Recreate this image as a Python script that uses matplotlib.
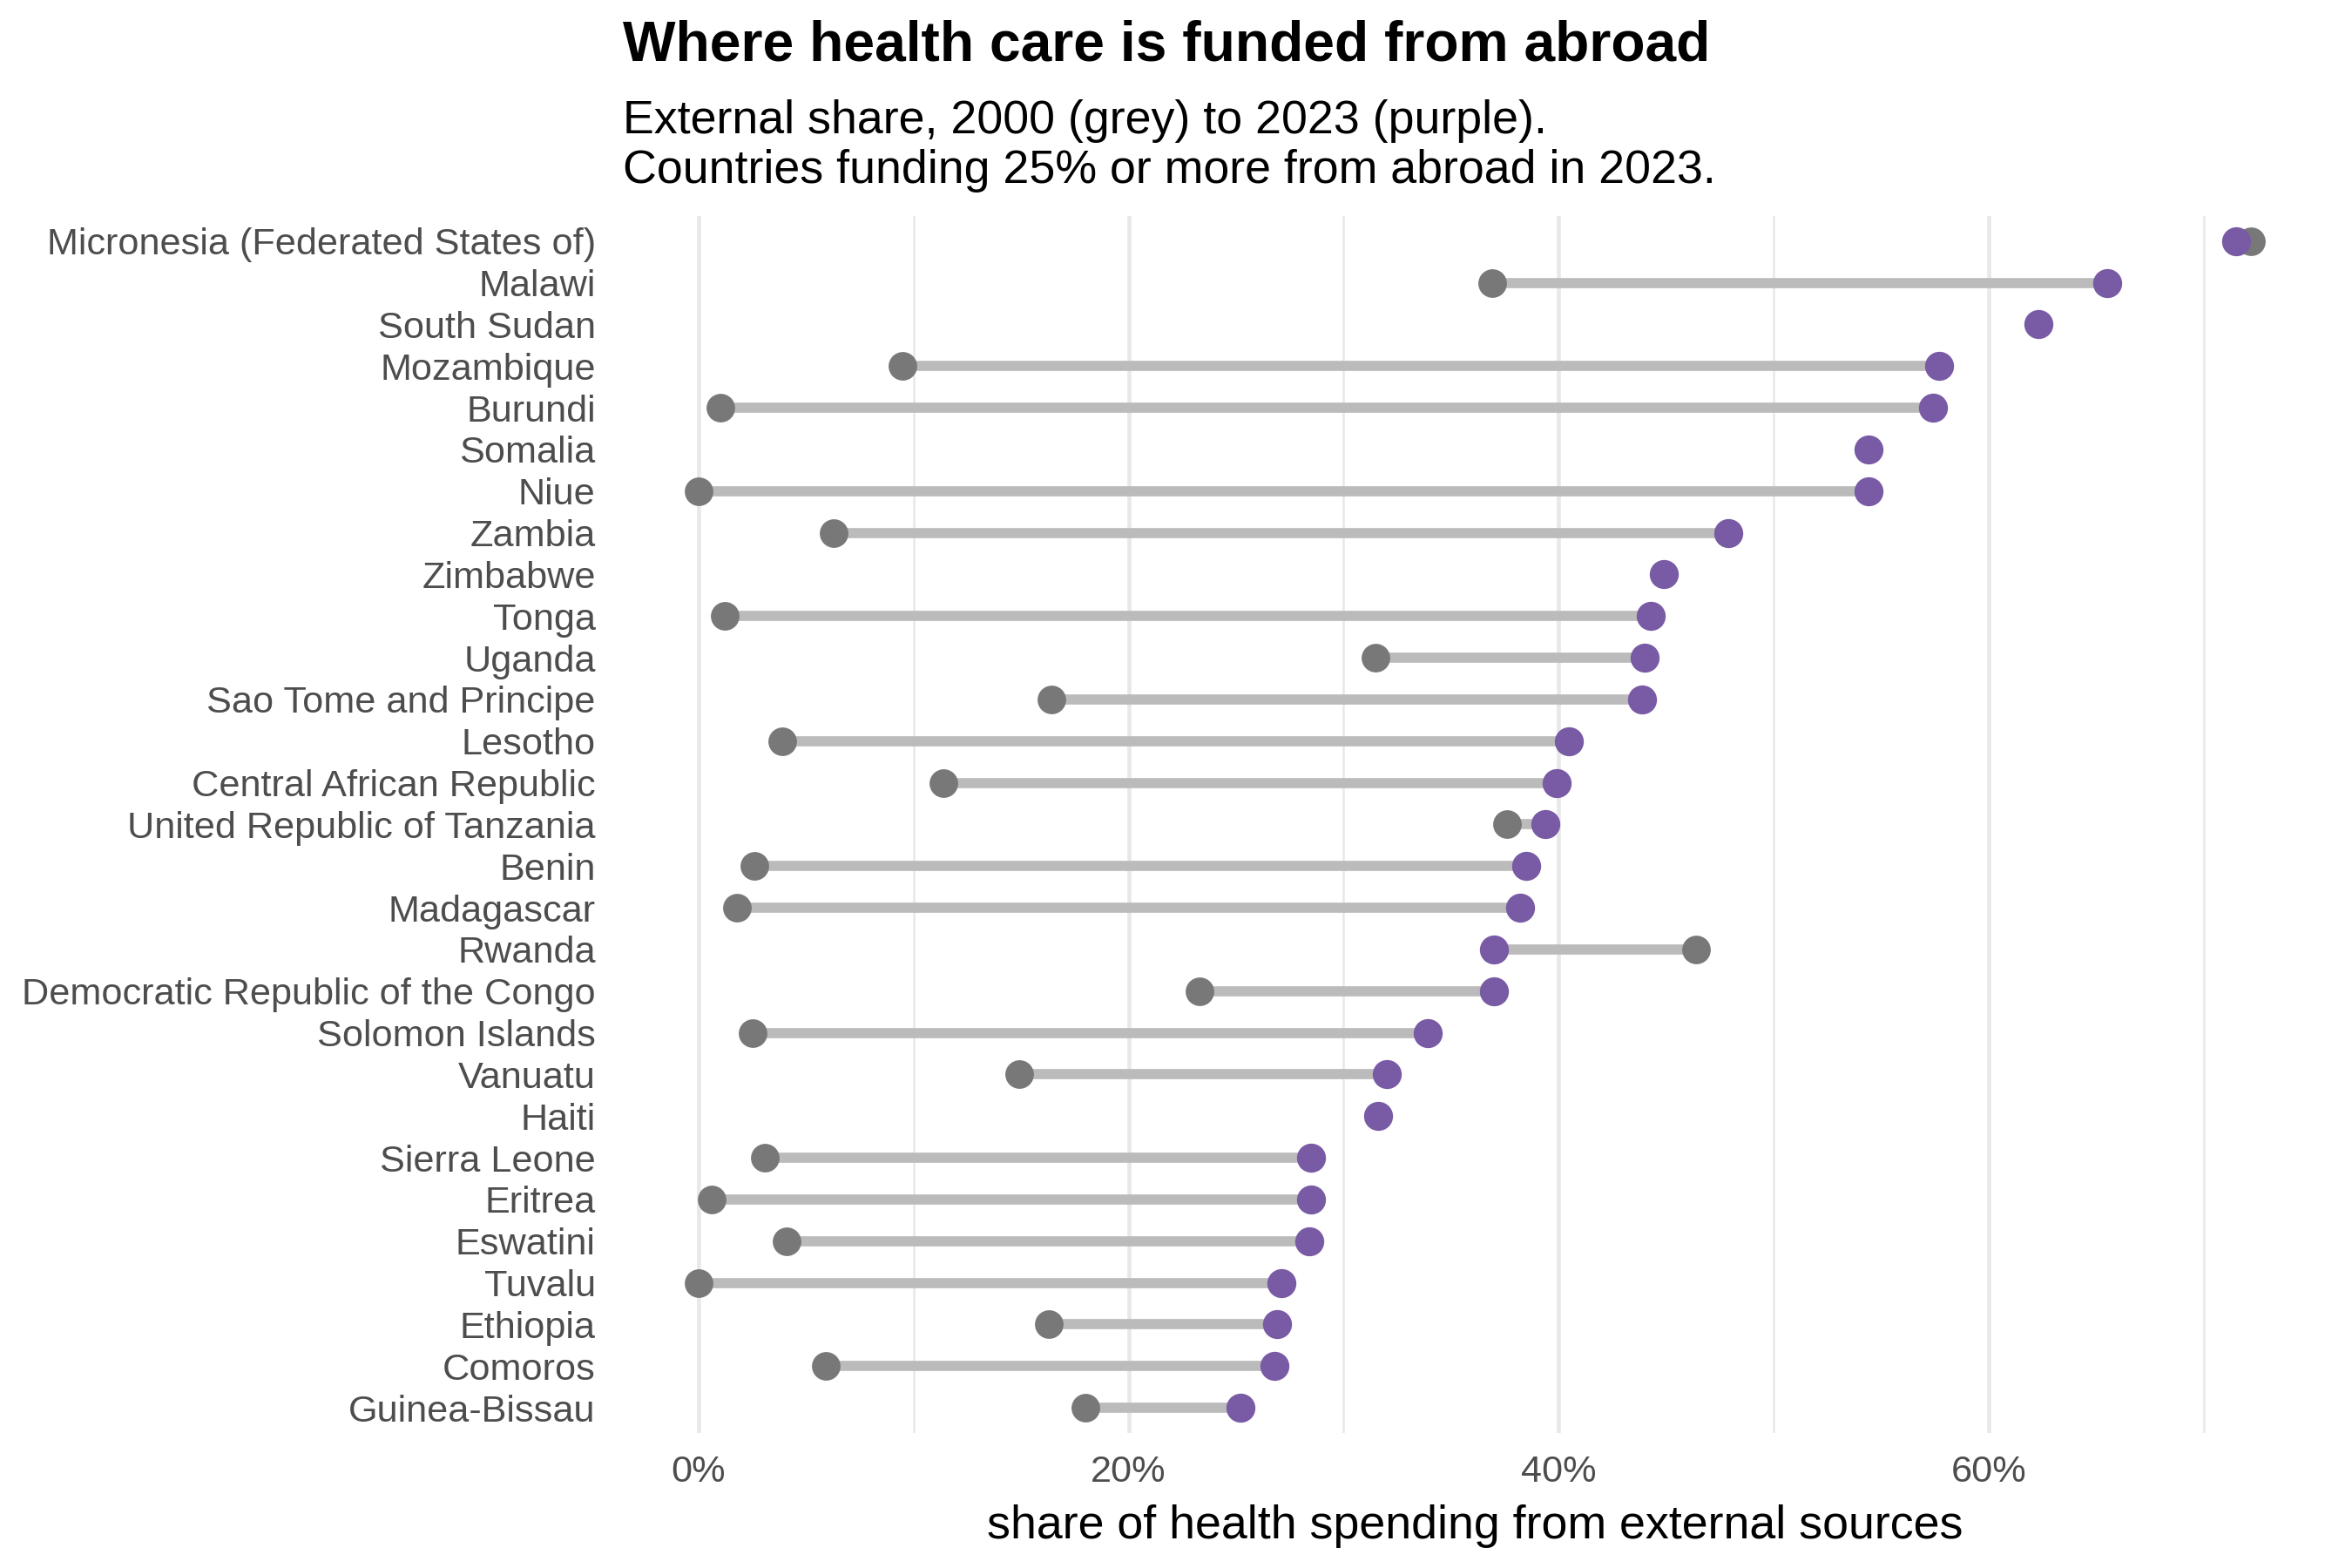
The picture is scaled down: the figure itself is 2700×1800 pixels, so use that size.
import matplotlib
matplotlib.use("Agg")
import matplotlib.pyplot as plt
from matplotlib.ticker import FuncFormatter, MultipleLocator
import numpy as np

plt.rcParams['font.family'] = ['Liberation Sans', 'DejaVu Sans']

# data (share of health spending from external sources, %)
countries = ['Micronesia (Federated States of)', 'Malawi', 'South Sudan', 'Mozambique', 'Burundi',
             'Somalia', 'Niue', 'Zambia', 'Zimbabwe', 'Tonga', 'Uganda', 'Sao Tome and Principe',
             'Lesotho', 'Central African Republic', 'United Republic of Tanzania', 'Benin',
             'Madagascar', 'Rwanda', 'Democratic Republic of the Congo', 'Solomon Islands',
             'Vanuatu', 'Haiti', 'Sierra Leone', 'Eritrea', 'Eswatini', 'Tuvalu', 'Ethiopia',
             'Comoros', 'Guinea-Bissau']
share_2000 = [72.2, 36.9, np.nan, 9.5, 1.0, np.nan, 0.0, 6.3, np.nan, 1.2, 31.5, 16.4,
              3.9, 11.4, 37.6, 2.6, 1.8, 46.4, 23.3, 2.5, 14.9, np.nan, 3.1, 0.6, 4.1,
              0.0, 16.3, 5.9, 18.0]
share_2023 = [71.5, 65.5, 62.3, 57.7, 57.4, 54.4, 54.4, 47.9, 44.9, 44.3, 44.0, 43.9,
              40.5, 39.9, 39.4, 38.5, 38.2, 37.0, 37.0, 33.9, 32.0, 31.6, 28.5, 28.5, 28.4,
              27.1, 26.9, 26.8, 25.2]

purple = '#785AA5'
grey_pt = '#787878'
seg = '#BBBBBB'

fig = plt.figure(figsize=(9, 6), dpi=300)
ax = fig.add_axes([0.2640, 0.0862, 0.9900 - 0.2640, 0.8622 - 0.0862])

y = np.arange(len(countries))
a = np.array(share_2000)
b = np.array(share_2023)

ax.hlines(y, a, b, color=seg, linewidth=2.8, zorder=2)
ax.scatter(a, y, s=62, color=grey_pt, linewidths=0, zorder=3)
ax.scatter(b, y, s=64, color=purple, linewidths=0, zorder=4)

lo, hi = 0, np.nanmax(np.concatenate([a, b]))
pad = (hi - lo) * 0.05
ax.set_xlim(lo - pad, hi + pad)
ax.set_ylim(len(countries) - 1 + 0.6, -0.6)

ax.xaxis.set_major_locator(MultipleLocator(20))
ax.xaxis.set_minor_locator(MultipleLocator(10))
ax.xaxis.set_major_formatter(FuncFormatter(lambda v, p: f'{v:.0f}%'))
ax.grid(axis='x', which='major', color='#E8E8E8', linewidth=1.1, zorder=0)
ax.grid(axis='x', which='minor', color='#E8E8E8', linewidth=0.6, zorder=0)
ax.set_axisbelow(True)

ax.set_yticks(y)
ax.set_yticklabels(countries)
ax.tick_params(axis='both', which='both', length=0, labelsize=10.4, labelcolor='#4D4D4D')
ax.tick_params(axis='y', pad=7)
ax.tick_params(axis='x', pad=6)
for s in ax.spines.values():
    s.set_visible(False)

ax.set_xlabel('share of health spending from external sources', fontsize=12.9, color='black', labelpad=4)

fig.text(0.2648, 0.971, 'Where health care is funded from abroad', fontsize=15.4,
         fontweight='bold', ha='left', va='center')
fig.text(0.2648, 0.923, 'External share, 2000 (grey) to 2023 (purple).', fontsize=12.9,
         ha='left', va='center')
fig.text(0.2648, 0.891, 'Countries funding 25% or more from abroad in 2023.', fontsize=12.9,
         ha='left', va='center')

fig.savefig('out.png', dpi=300, facecolor='white')
